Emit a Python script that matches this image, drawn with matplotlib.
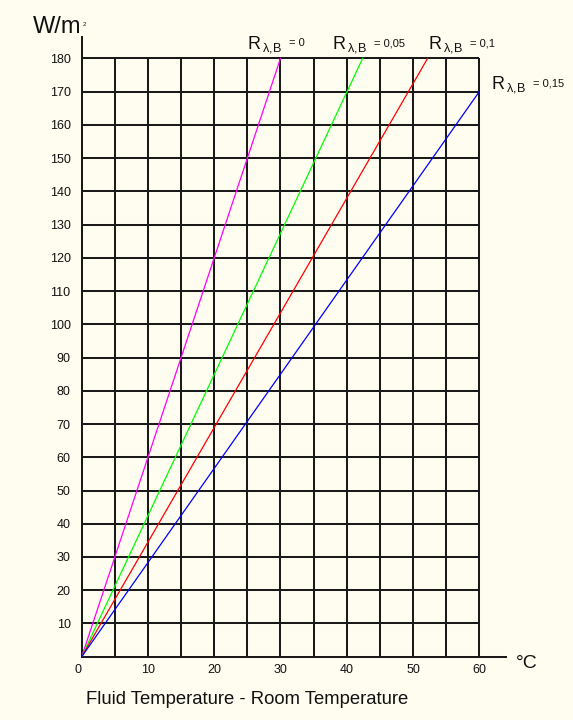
import numpy as np
import matplotlib.pyplot as plt

plt.rcParams['font.family'] = ['Liberation Sans', 'DejaVu Sans']
plt.rcParams['mathtext.fontset'] = 'custom'
plt.rcParams['mathtext.rm'] = 'Liberation Sans'
plt.rcParams['mathtext.it'] = 'Liberation Sans'

# lines start at the origin and end at these points
r_labels = ['0', '0,05', '0,1', '0,15']
dt_end = [30, 42.4, 52.2, 60]
q_end = [180, 180, 180, 170]
line_colors = ['#ff00ff', '#00ff00', '#ff0000', '#0000ff']

x_ticks = [0, 10, 20, 30, 40, 50, 60]
x_grid = np.arange(5, 61, 5)
y_ticks = np.arange(10, 181, 10)

bg = '#fffcf0'
fig = plt.figure(figsize=(5.73, 7.2), dpi=100, facecolor=bg)
ax = fig.add_axes([0.1426, 0.0879, 0.7401, 0.8601])
ax.set_facecolor(bg)
ax.set_xlim(0, 64)
ax.set_ylim(0, 186.3)

grid_kw = dict(color='#1a1a1a', lw=1.45, zorder=1)
ax.hlines(y_ticks, 0, 60, **grid_kw)
ax.vlines(x_grid, 0, 180, **grid_kw)

for xe, ye, c in zip(dt_end, q_end, line_colors):
    ax.plot([0, xe], [0, ye], color=c, lw=0.9, zorder=3)

for s in ['top', 'right']:
    ax.spines[s].set_visible(False)
for s in ['left', 'bottom']:
    ax.spines[s].set_color('#1a1a1a')
    ax.spines[s].set_linewidth(1.45)

ax.set_xticks(x_ticks)
ax.set_xticklabels([str(v) for v in x_ticks])
ax.set_yticks(y_ticks)
ax.set_yticklabels([str(v) for v in y_ticks])
ax.tick_params(length=0, labelsize=9, colors='#111111')
ax.tick_params(axis='y', pad=8)
ax.tick_params(axis='x', pad=5)
ax.get_xticklabels()[0].set_horizontalalignment('right')

fig.text(0.058, 0.9625, 'W/m', fontsize=17, color='#111111', va='center')
fig.text(0.145, 0.966, '2', fontsize=4.5, color='#111111', va='center')
fig.text(0.9, 0.079, '°C', fontsize=14, color='#111111', va='center')
fig.text(0.15, 0.028, 'Fluid Temperature - Room Temperature',
         fontsize=13.3, color='#111111', va='center')

label_pos = [(25.0, 184.3), (37.8, 184.3), (52.3, 184.3), (61.8, 172.2)]
for lab, (lx, ly) in zip(r_labels, label_pos):
    ax.text(lx, ly, r'$\mathrm{R}\,_{\lambda{,}B}$', fontsize=13,
            color='#111111', va='center', ha='left', clip_on=False)
    ax.annotate('= ' + lab, (lx, ly), xytext=(30, 0.5), textcoords='offset points',
                fontsize=8, color='#111111', va='center', ha='left',
                annotation_clip=False)

fig.savefig('out.png', dpi=100, facecolor=bg)
